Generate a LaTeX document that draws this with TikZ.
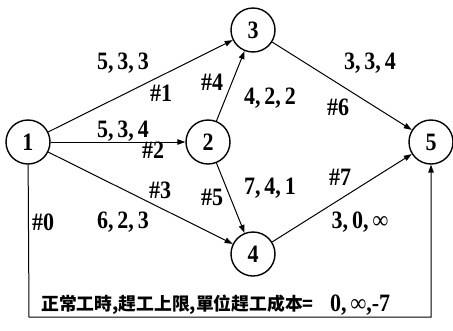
\documentclass[tikz,border=0pt]{standalone}
\usepackage{fontspec}
\setmainfont{Liberation Serif}
\newfontfamily\numf[FakeStretch=0.88]{Liberation Serif}
\newfontfamily\cjk{Noto Sans CJK TC}
\newcommand\cma{,\hspace{4pt}}
\usetikzlibrary{arrows.meta}
\begin{document}
\begin{tikzpicture}[x=1pt,y=-1pt,
  vtx/.style={circle,draw,line width=1.4pt,minimum size=44pt,inner sep=0pt,font=\numf\fontsize{25}{25}\selectfont\bfseries},
  lbl/.style={font=\numf\fontsize{25}{25}\selectfont\bfseries,inner sep=0pt},
  edge/.style={line width=1pt,-{Triangle[length=8pt,width=5.5pt]}}]
\useasboundingbox (0,0) rectangle (453,330);
\node[vtx] (n1) at (28,142) {1};
\node[vtx] (n2) at (208,142) {2};
\node[vtx] (n3) at (253,30) {3};
\node[vtx] (n4) at (253,254) {4};
\node[vtx] (n5) at (431,142) {5};
\draw[edge] (n1) -- (n3);
\draw[edge] (n1) -- (n2);
\draw[edge] (n1) -- (n4);
\draw[edge] (n2) -- (n3);
\draw[edge] (n2) -- (n4);
\draw[edge] (n3) -- (n5);
\draw[edge] (n4) -- (n5);
\coordinate (c1) at (29,317);
\coordinate (c2) at (431,317);
\draw[edge] (n1) -- (c1) -- (c2) -- (n5);
\node[lbl] (l1) at (123,63) {5\cma 3\cma 3};
\node[lbl] (h1) at (161,93) {\#1};
\node[lbl] (h4) at (212,82) {\#4};
\node[lbl] (l2) at (123,131) {5\cma 3\cma 4};
\node[lbl] (h2) at (153,150) {\#2};
\node[lbl] (l4) at (270,98) {4\cma 2\cma 2};
\node[lbl] (l6) at (370,63) {3\cma 3\cma 4};
\node[lbl] (h6) at (338,107) {\#6};
\node[lbl] (h3) at (160,190) {\#3};
\node[lbl] (h5) at (212,197) {\#5};
\node[lbl] (h0) at (43,222) {\#0};
\node[lbl] (l3) at (123,222) {6\cma 2\cma 3};
\node[lbl] (l5) at (270,188) {7\cma 4\cma 1};
\node[lbl] (h7) at (340,177) {\#7};
\node[lbl] (l7) at (360,222) {3\cma 0\cma ∞};
\node[font=\cjk\fontsize{17.8}{17.8}\selectfont\bfseries,anchor=west,inner sep=0pt] (t0) at (41,305) {正常工時,趕工上限,單位趕工成本=};
\node[lbl,anchor=west] (v0) at (330,305) {0\cma ∞,-7};
\end{tikzpicture}
\end{document}
